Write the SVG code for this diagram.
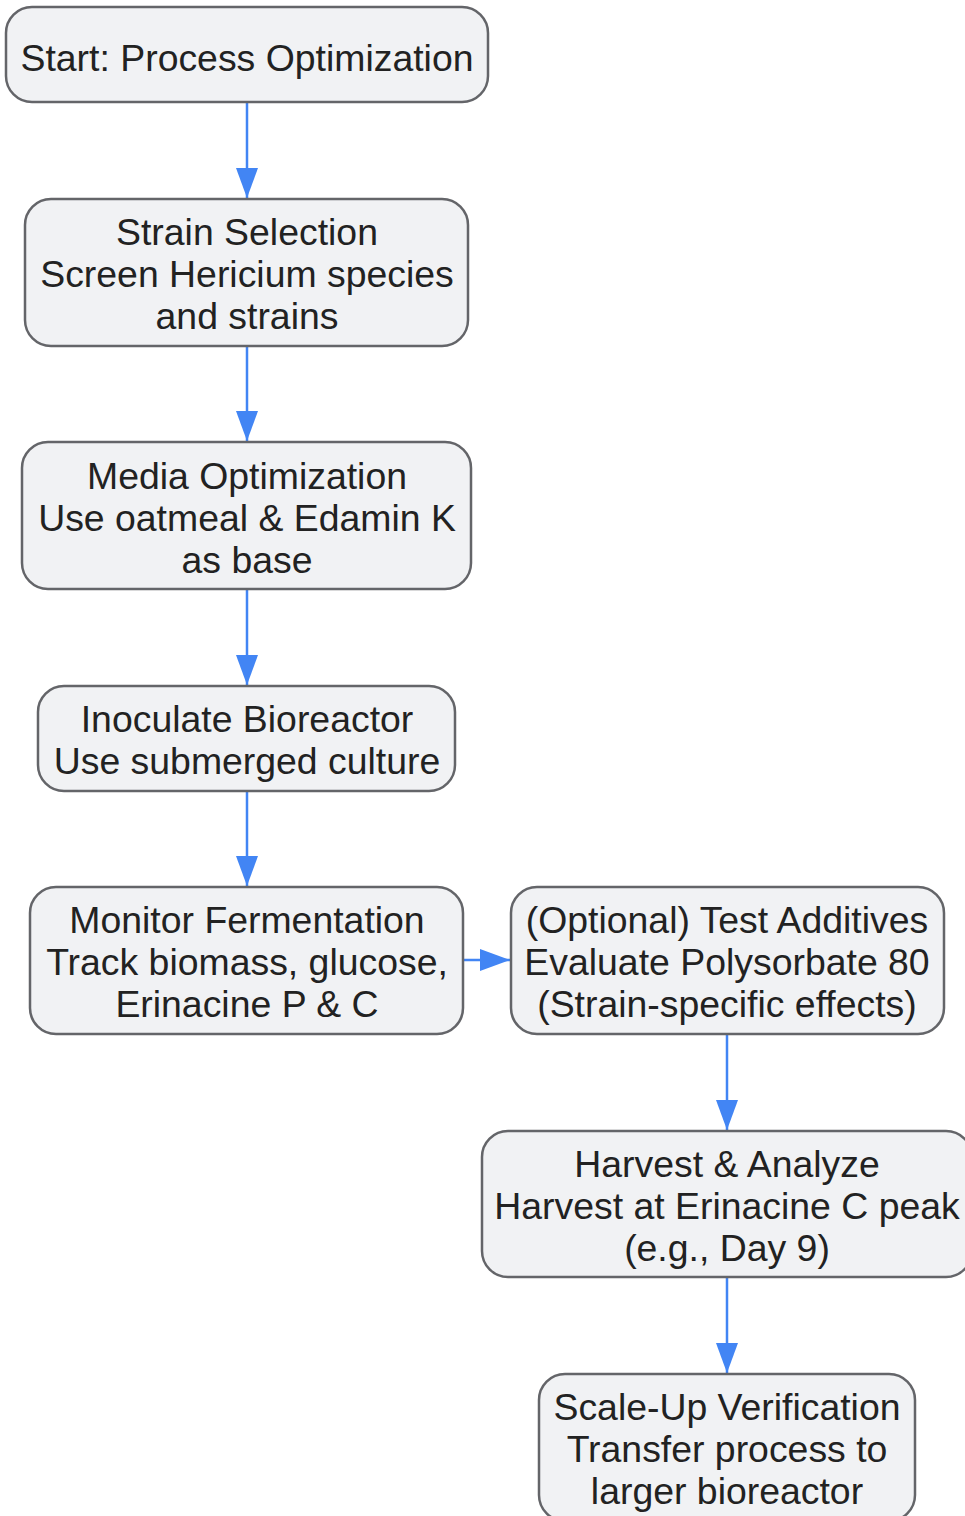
<svg xmlns="http://www.w3.org/2000/svg" width="965" height="1516" viewBox="0 0 965 1516">
<style>
.n rect{fill:#f1f2f4;stroke:#646569;stroke-width:2.5}
.n text{font-family:"Liberation Sans",Arial,sans-serif;font-size:37.4px;fill:#222;text-anchor:middle}
.c line{stroke:#4285f4;stroke-width:2.5}
</style>
<defs>
<marker id="ah" viewBox="0 0 30 22" refX="30" refY="11" markerWidth="30" markerHeight="22" markerUnits="userSpaceOnUse" orient="auto">
<path d="M0,0 L30,11 L0,22 Z" fill="#4285f4"/>
</marker>
</defs>
<g class="c">
<line x1="247" y1="102" x2="247" y2="198" marker-end="url(#ah)"/>
<line x1="247" y1="346" x2="247" y2="441" marker-end="url(#ah)"/>
<line x1="247" y1="589" x2="247" y2="685" marker-end="url(#ah)"/>
<line x1="247" y1="791" x2="247" y2="886" marker-end="url(#ah)"/>
<line x1="463" y1="960" x2="510" y2="960" marker-end="url(#ah)"/>
<line x1="727" y1="1034" x2="727" y2="1130" marker-end="url(#ah)"/>
<line x1="727" y1="1277" x2="727" y2="1373" marker-end="url(#ah)"/>
</g>
<g id="n1" class="n"><rect x="6" y="7" width="482" height="95" rx="26"/><text x="247" y="71">Start: Process Optimization</text></g>
<g id="n2" class="n"><rect x="25" y="199" width="443" height="147" rx="26"/><text x="247" y="245">Strain Selection</text><text x="247" y="287">Screen Hericium species</text><text x="247" y="329">and strains</text></g>
<g id="n3" class="n"><rect x="22" y="442" width="449" height="147" rx="26"/><text x="247" y="489">Media Optimization</text><text x="247" y="531">Use oatmeal &amp; Edamin K</text><text x="247" y="573">as base</text></g>
<g id="n4" class="n"><rect x="38" y="686" width="417" height="105" rx="26"/><text x="247" y="732">Inoculate Bioreactor</text><text x="247" y="774">Use submerged culture</text></g>
<g id="n5" class="n"><rect x="30" y="887" width="433" height="147" rx="26"/><text x="247" y="933">Monitor Fermentation</text><text x="247" y="975">Track biomass, glucose,</text><text x="247" y="1017">Erinacine P &amp; C</text></g>
<g id="n6" class="n"><rect x="511" y="887" width="433" height="147" rx="26"/><text x="727" y="933">(Optional) Test Additives</text><text x="727" y="975">Evaluate Polysorbate 80</text><text x="727" y="1017">(Strain-specific effects)</text></g>
<g id="n7" class="n"><rect x="482" y="1131" width="490" height="146" rx="26"/><text x="727" y="1177">Harvest &amp; Analyze</text><text x="727" y="1219">Harvest at Erinacine C peak</text><text x="727" y="1261">(e.g., Day 9)</text></g>
<g id="n8" class="n"><rect x="539" y="1374" width="376" height="147" rx="26"/><text x="727" y="1420">Scale-Up Verification</text><text x="727" y="1462">Transfer process to</text><text x="727" y="1504">larger bioreactor</text></g>
</svg>
